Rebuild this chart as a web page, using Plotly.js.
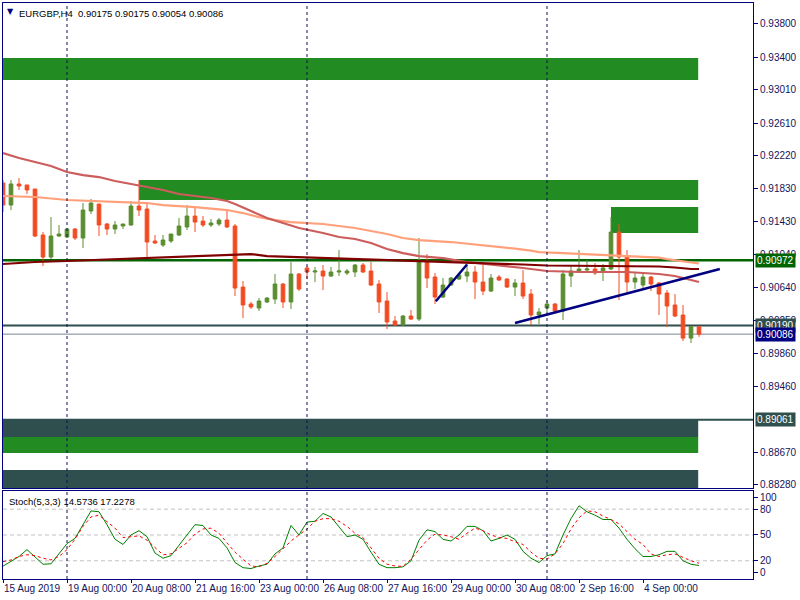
<!DOCTYPE html>
<html><head><meta charset="utf-8">
<script src="https://cdn.plot.ly/plotly-3.0.1.min.js"></script>
<style>html,body{margin:0;padding:0;background:#fff;}#chart{width:800px;height:600px;}</style>
</head><body><div id="chart"></div>
<script>
// ---- OHLC (EURGBP H4, 15 Aug 2019 16:00 -> 5 Sep 2019 04:00) ----
const openP = [0.91896,0.91632,0.91884,0.91872,0.91824,0.91273,0.91009,0.91261,0.91249,0.91345,
0.91237,0.91560,0.91644,0.91405,0.91345,0.91381,0.91393,0.91620,0.91584,0.91201,
0.91153,0.91201,0.91273,0.91369,0.91500,0.91440,0.91393,0.91405,0.91452,0.91381,
0.90650,0.90447,0.90399,0.90471,0.90506,0.90686,0.90471,0.90806,0.90878,0.90830,
0.90842,0.90782,0.90830,0.90818,0.90830,0.90914,0.90842,0.90686,0.90483,0.90243,
0.90195,0.90303,0.90267,0.90962,0.90770,0.90530,0.90674,0.90746,0.90782,0.90830,
0.90710,0.90602,0.90770,0.90746,0.90650,0.90698,0.90566,0.90315,0.90399,0.90447,
0.90363,0.90782,0.90830,0.90854,0.90866,0.90830,0.90866,0.91309,0.91021,0.90710,
0.90674,0.90770,0.90698,0.90578,0.90435,0.90315,0.90039,0.90175];
const highP = [0.91932,0.91932,0.91955,0.91872,0.91824,0.91309,0.91488,0.91393,0.91357,0.91357,
0.91656,0.91704,0.91644,0.91417,0.91440,0.91405,0.91680,0.91932,0.91668,0.91273,
0.91273,0.91285,0.91476,0.91632,0.91608,0.91500,0.91464,0.91476,0.91584,0.91405,
0.90722,0.90471,0.90518,0.90530,0.90806,0.90698,0.90950,0.90818,0.90902,0.90890,
0.90914,0.90890,0.91093,0.90866,0.90926,0.90938,0.90950,0.90734,0.90590,0.90303,
0.90315,0.90375,0.91237,0.91045,0.90818,0.90758,0.90770,0.90806,0.90950,0.90902,
0.90914,0.90806,0.90794,0.90758,0.90746,0.90854,0.90626,0.90399,0.90494,0.90459,
0.90854,0.90914,0.91093,0.90973,0.90938,0.90926,0.91488,0.91405,0.91093,0.90818,
0.90818,0.90782,0.90710,0.90614,0.90566,0.90435,0.90183,0.90175];
const lowP = [0.91548,0.91572,0.91812,0.91764,0.91249,0.90902,0.90985,0.91249,0.91237,0.91213,
0.91117,0.91524,0.91261,0.91273,0.91285,0.91345,0.91381,0.91500,0.90997,0.91165,
0.91130,0.91177,0.91261,0.91333,0.91309,0.91369,0.91369,0.91381,0.91357,0.90542,
0.90279,0.90387,0.90363,0.90459,0.90447,0.90399,0.90387,0.90602,0.90746,0.90710,
0.90614,0.90770,0.90782,0.90794,0.90770,0.90818,0.90662,0.90339,0.90147,0.90183,
0.90183,0.90255,0.90243,0.90638,0.90447,0.90518,0.90662,0.90734,0.90710,0.90506,
0.90554,0.90590,0.90722,0.90638,0.90542,0.90506,0.90195,0.90207,0.90351,0.90351,
0.90255,0.90650,0.90818,0.90830,0.90794,0.90722,0.90854,0.90494,0.90590,0.90626,
0.90638,0.90602,0.90315,0.90171,0.90291,0.90004,0.89980,0.90054];
const closeP = [0.91632,0.91884,0.91860,0.91812,0.91261,0.91009,0.91261,0.91285,0.91345,0.91237,
0.91572,0.91656,0.91393,0.91345,0.91393,0.91405,0.91620,0.91572,0.91189,0.91177,
0.91213,0.91285,0.91381,0.91500,0.91428,0.91393,0.91417,0.91452,0.91369,0.90638,
0.90435,0.90411,0.90483,0.90518,0.90686,0.90471,0.90806,0.90626,0.90830,0.90842,
0.90782,0.90830,0.90842,0.90842,0.90914,0.90830,0.90674,0.90471,0.90231,0.90195,
0.90303,0.90267,0.90973,0.90758,0.90530,0.90674,0.90758,0.90794,0.90830,0.90710,
0.90602,0.90758,0.90734,0.90650,0.90698,0.90542,0.90315,0.90351,0.90447,0.90363,
0.90806,0.90842,0.90866,0.90866,0.90818,0.90878,0.91309,0.91009,0.90710,0.90758,
0.90770,0.90686,0.90566,0.90423,0.90303,0.90039,0.90175,0.90086];

// ---- Moving averages (bar index, price) ----
const maSalmonIdx = [0,4,8,12,16,18,20,24,28,30,32,34,36,40,42,44,46,48,50,52,56,60,64,66,67,70,74,78,82,83,85,87];
const maSalmonVal = [0.91740,0.91728,0.91692,0.91680,0.91668,0.91656,0.91632,0.91608,0.91572,0.91536,0.91488,0.91452,0.91428,0.91405,0.91381,0.91357,0.91321,0.91285,0.91237,0.91213,0.91189,0.91153,0.91111,0.91087,0.91069,0.91057,0.91039,0.91027,0.91003,0.90985,0.90956,0.90932];
const maRedIdx = [0,2,4,6,8,10,12,14,16,18,20,22,24,26,28,29,31,33,35,37,40,42,44,46,48,50,52,55,58,62,65,68,72,78,82,84,86,87];
const maRedVal = [0.92255,0.92195,0.92147,0.92099,0.92027,0.91991,0.91967,0.91920,0.91884,0.91848,0.91812,0.91764,0.91740,0.91716,0.91680,0.91644,0.91560,0.91476,0.91417,0.91357,0.91297,0.91249,0.91225,0.91177,0.91105,0.91057,0.91021,0.90997,0.90950,0.90914,0.90878,0.90842,0.90830,0.90830,0.90806,0.90782,0.90734,0.90710];
const maMaroonIdx = [0,2,4,8,11,14,16,20,23,27,31,33,37,40,44,48,52,57,62,65,68,76,82,84,86,87];
const maMaroonVal = [0.90926,0.90938,0.90950,0.90962,0.90973,0.90985,0.90997,0.91009,0.91021,0.91033,0.91045,0.91021,0.91009,0.90997,0.90991,0.90973,0.90962,0.90944,0.90932,0.90920,0.90908,0.90902,0.90896,0.90884,0.90866,0.90866];

// ---- Stochastic (5,3,3) ----
const stochMain = [13.8,19,25,33,24,16,16.5,28,40,46,62,78,77,62,45,39,50,55,48,29,
23,26,38,50,62,61,50,46,35,18,12,11,14,16,28,35,61,50,65,66,
75,71,60,48,50,45,30,16,12,12,13,20,44,56,54,45,43,50,60,60,
55,43,46,50,45,31,23,18,26,28,50,69,84,77,73,68,68,58,45,34,
25,25,27,31,31,20,16,14.5736];
const stochSignal = [19,21,25,27,26,23,21,25,33,45,60,71,73,66,58,47,48,49,44,36,
27,28,35,41,51,57,58,52,41,30,22,14,13,17,25,34,43,50,57,66,
69,69,66,60,52,47,35,23,16,14,13.5,22,33,44,51,50,48,45,52,58,
55,50,47,46,42,39,30,23,22,28,40,57,70,78,77,72,68,63,54,45,
39,28,25,27,28,24,20,17.2278];

// ---- Axis ticks ----
const priceTicks = [0.93800,0.93400,0.93010,0.92610,0.92220,0.91830,0.91430,0.91040,0.90640,0.90250,0.89860,0.89460,0.88670,0.88280];
const timeTickIdx = [0,8,16,24,32,40,48,56,64,72,80];
const timeTickText = ['15 Aug 2019','19 Aug 00:00','20 Aug 08:00','21 Aug 16:00','23 Aug 00:00','26 Aug 08:00','27 Aug 16:00','29 Aug 00:00','30 Aug 08:00','2 Sep 16:00','4 Sep 00:00'];
const stochTickVals = [93.5,80,50,20,6.5];
const stochTickText = ['100','80','50','20','0'];

// ---- Drawn objects ----
const levelLines = [0.90972, 0.90190, 0.90086, 0.89061];
const zoneTop = [0.93392, 0.91932, 0.91608, 0.89070, 0.88854, 0.88459];
const zoneBottom = [0.93129, 0.91692, 0.91297, 0.88854, 0.88662, 0.88200];
const zoneStart = [0, 17, 76, 0, 0, 0];
const zoneEnd = [86.9, 86.9, 86.9, 86.9, 86.9, 86.9];
const trendX0 = [54.1, 64], trendY0 = [0.90480, 0.90219];
const trendX1 = [58, 89.6], trendY1 = [0.90920, 0.90866];
const separators = [8, 38, 68];
const stochLevels = [80, 50, 20];

const NAVY = '#000080';
const SEP = '#10105a';
const BULL = '#5A8D2F', BEAR = '#F24C24';
const FG = '#14145a';
const FONT = 'Liberation Sans, Arial, sans-serif';
const barIdx = openP.map((_, i) => i);
const last = openP.length - 1;

const traces = [
  {type:'candlestick', x:barIdx, open:openP, high:highP, low:lowP, close:closeP,
   xaxis:'x', yaxis:'y', whiskerwidth:0, hoverinfo:'skip',
   increasing:{line:{color:BULL,width:1}, fillcolor:BULL},
   decreasing:{line:{color:BEAR,width:1}, fillcolor:BEAR}},
  {type:'scatter', mode:'lines', x:maSalmonIdx, y:maSalmonVal, xaxis:'x', yaxis:'y', line:{color:'#FFA07A', width:2.2}, hoverinfo:'skip'},
  {type:'scatter', mode:'lines', x:maRedIdx, y:maRedVal, xaxis:'x', yaxis:'y', line:{color:'#CD5C5C', width:2.2}, hoverinfo:'skip'},
  {type:'scatter', mode:'lines', x:maMaroonIdx, y:maMaroonVal, xaxis:'x', yaxis:'y', line:{color:'#800000', width:2.2}, hoverinfo:'skip'},
  {type:'scatter', mode:'lines', x:barIdx, y:stochMain, xaxis:'x2', yaxis:'y2', line:{color:'#008000', width:1}, hoverinfo:'skip'},
  {type:'scatter', mode:'lines', x:barIdx, y:stochSignal, xaxis:'x2', yaxis:'y2', line:{color:'#FF0000', width:1, dash:'dot'}, hoverinfo:'skip'}
];

const shapes = [];
const zoneColors = ['#228B22','#228B22','#228B22','#2F4F4F','#228B22','#2F4F4F'];
zoneTop.forEach((t, i) => shapes.push({type:'rect', xref:'x', yref:'y', x0:zoneStart[i], x1:zoneEnd[i], y0:zoneBottom[i], y1:t, fillcolor:zoneColors[i], line:{width:0}, layer:'below'}));
const lineColors = ['#006400','#2F4F4F','#778899','#2F4F4F'];
const lineWidths = [2.5, 2, 1, 2];
levelLines.forEach((v, i) => shapes.push({type:'line', xref:'paper', yref:'y', x0:0, x1:1, y0:v, y1:v, line:{color:lineColors[i], width:lineWidths[i]}, layer:'below'}));
trendX0.forEach((x0, i) => shapes.push({type:'line', xref:'x', yref:'y', x0:x0, y0:trendY0[i], x1:trendX1[i], y1:trendY1[i], line:{color:NAVY, width:2.5}}));
stochLevels.forEach(v => shapes.push({type:'line', xref:'paper', yref:'y2', x0:0, x1:1, y0:v, y1:v, line:{color:'#C0C0C0', width:1, dash:'4px,3px'}, layer:'below'}));
separators.forEach(s => shapes.push({type:'line', xref:'x', yref:'paper', x0:s, x1:s, y0:0, y1:1, line:{color:SEP, width:1, dash:'3px,3px'}}));

const labelBg = ['#006400','#2F4F4F','#000080','#2F4F4F'];
const annotations = levelLines.map((v, i) => ({xref:'paper', yref:'y', x:1, y:v, xanchor:'left', yanchor:'middle', xshift:2,
  text:v.toFixed(5), showarrow:false, bgcolor:labelBg[i], borderpad:1, font:{family:FONT, size:10, color:'#FFFFFF'}}));
annotations.push({xref:'paper', yref:'paper', x:0, y:1, xanchor:'left', yanchor:'top', xshift:2, yshift:-2, showarrow:false,
  text:'▼', font:{family:'DejaVu Sans', size:8, color:NAVY}});
annotations.push({xref:'paper', yref:'paper', x:0, y:1, xanchor:'left', yanchor:'top', xshift:14, yshift:-3, showarrow:false,
  text:'EURGBP,H4  ' + [openP[last], highP[last], lowP[last], closeP[last]].map(v => v.toFixed(5)).join(' '), font:{family:FONT, size:9.5, color:'#000000'}});
annotations.push({xref:'paper', yref:'y2', x:0, y:89, xanchor:'left', yanchor:'middle', xshift:4, showarrow:false,
  text:'Stoch(5,3,3) ' + stochMain[last].toFixed(4) + ' ' + stochSignal[last].toFixed(4), font:{family:FONT, size:9.5, color:'#000000'}});

const axisCommon = {showgrid:false, zeroline:false, showline:true, mirror:true, linecolor:NAVY, linewidth:1, fixedrange:true};
const layout = {
  width:800, height:600, margin:{l:3, r:47, t:3, b:21, pad:0},
  paper_bgcolor:'#FFFFFF', plot_bgcolor:'#FFFFFF', showlegend:false, boxgap:0.35,
  font:{family:FONT, size:10, color:FG},
  xaxis:Object.assign({}, axisCommon, {anchor:'y', domain:[0,1], range:[0,93.75], showticklabels:false, ticks:'', rangeslider:{visible:false}}),
  yaxis:Object.assign({}, axisCommon, {anchor:'x', domain:[0.158,1], range:[0.88244,0.94051], side:'right', tickvals:priceTicks, tickformat:'.5f', ticks:'outside', ticklen:4, tickcolor:NAVY}),
  xaxis2:Object.assign({}, axisCommon, {anchor:'y2', domain:[0,1], range:[0,93.75], tickvals:timeTickIdx, ticktext:timeTickText, ticks:'outside', ticklen:3, tickcolor:NAVY, tickangle:0, ticklabelposition:'outside right'}),
  yaxis2:Object.assign({}, axisCommon, {anchor:'x2', domain:[0,0.1528], range:[-1.16,101.16], side:'right', tickvals:stochTickVals, ticktext:stochTickText, ticks:'outside', ticklen:4, tickcolor:NAVY}),
  shapes:shapes, annotations:annotations
};
Plotly.newPlot('chart', traces, layout, {displayModeBar:false, staticPlot:true});
</script></body></html>
